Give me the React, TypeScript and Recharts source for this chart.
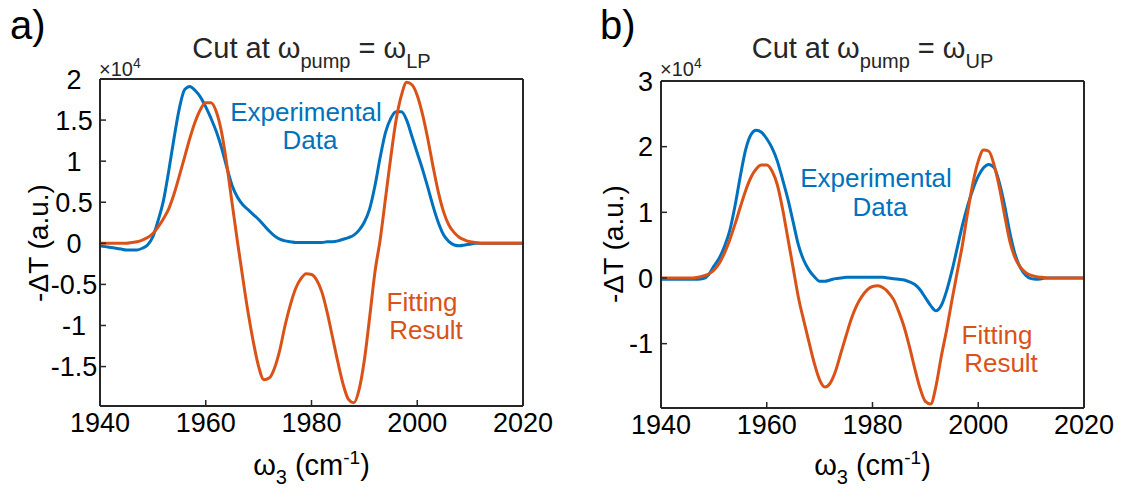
import React from 'react'
import { LineChart, Line, XAxis, YAxis } from 'recharts'

// wavenumber grid (cm-1), one sample per cm-1
const wavenumbers = Array.from({ length: 81 }, (_, i) => 1940 + i)

// panel a: cut at w_pump = w_LP  (units of 1e4)
const expA = [
  -0.03, -0.04, -0.05, -0.06, -0.07, -0.08, -0.08, -0.08, -0.06, -0.02,
  0.08, 0.28, 0.52, 0.88, 1.28, 1.64, 1.87, 1.91, 1.86, 1.78,
  1.66, 1.52, 1.36, 1.16, 0.92, 0.7, 0.56, 0.47, 0.41, 0.35,
  0.29, 0.22, 0.15, 0.09, 0.05, 0.03, 0.02, 0.01, 0.01, 0.01,
  0.01, 0.01, 0.01, 0.02, 0.02, 0.03, 0.05, 0.07, 0.1, 0.16,
  0.26, 0.42, 0.7, 1.05, 1.35, 1.52, 1.6, 1.6, 1.5, 1.3,
  1.1, 0.9, 0.68, 0.45, 0.25, 0.1, 0.02, -0.02, -0.03, -0.02,
  -0.01, 0, 0, 0, 0, 0, 0, 0, 0, 0, 0,
]
const fitA = [
  0, 0, 0, 0, 0, 0, 0.01, 0.02, 0.04, 0.07,
  0.12, 0.2, 0.3, 0.42, 0.6, 0.82, 1.05, 1.28, 1.48, 1.63,
  1.71, 1.71, 1.6, 1.35, 0.95, 0.48, 0.02, -0.42, -0.84, -1.2,
  -1.5, -1.66, -1.64, -1.52, -1.3, -1.0, -0.75, -0.55, -0.43, -0.37,
  -0.38, -0.45, -0.6, -0.85, -1.15, -1.45, -1.72, -1.9, -1.94, -1.78,
  -1.42, -0.9, -0.35, 0.05, 0.55, 1.05, 1.5, 1.8, 1.96, 1.93,
  1.8, 1.57, 1.27, 0.93, 0.62, 0.38, 0.22, 0.13, 0.07, 0.04,
  0.02, 0.01, 0, 0, 0, 0, 0, 0, 0, 0, 0,
]

// panel b: cut at w_pump = w_UP  (units of 1e4)
const expB = [
  -0.02, -0.02, -0.02, -0.02, -0.02, -0.02, -0.02, -0.02, -0.01, 0.05,
  0.18, 0.3, 0.48, 0.72, 1.1, 1.55, 1.95, 2.18, 2.25, 2.22,
  2.12, 1.98, 1.78, 1.5, 1.2, 0.85, 0.5, 0.27, 0.12, 0.02,
  -0.05, -0.05, -0.03, -0.01, 0, 0.01, 0.01, 0.01, 0.01, 0.01,
  0.01, 0.01, 0.01, 0, -0.01, -0.02, -0.03, -0.06, -0.1, -0.18,
  -0.3, -0.42, -0.5, -0.42, -0.2, 0.1, 0.45, 0.8, 1.1, 1.35,
  1.55, 1.68, 1.73, 1.68, 1.45, 1.1, 0.68, 0.35, 0.15, 0.04,
  -0.01, -0.02, -0.01, 0, 0, 0, 0, 0, 0, 0, 0,
]
const fitB = [
  0, 0, 0, 0, 0, 0, 0, 0.01, 0.03, 0.06,
  0.12, 0.22, 0.38, 0.58, 0.82, 1.08, 1.33, 1.53, 1.66, 1.72,
  1.72, 1.63, 1.42, 1.05, 0.6, 0.15, -0.3, -0.65, -0.98, -1.3,
  -1.55, -1.66, -1.6, -1.42, -1.15, -0.88, -0.62, -0.42, -0.28, -0.18,
  -0.13, -0.12, -0.15, -0.22, -0.33, -0.52, -0.75, -1.05, -1.38, -1.68,
  -1.88, -1.92, -1.65, -1.2, -0.8, -0.35, 0.08, 0.5, 1.0, 1.45,
  1.78, 1.95, 1.93, 1.72, 1.38, 0.95, 0.55, 0.3, 0.16, 0.08,
  0.04, 0.02, 0.01, 0, 0, 0, 0, 0, 0, 0, 0,
]

const xTicks = [1940, 1960, 1980, 2000, 2020]
const yTicksA = [-1.5, -1, -0.5, 0, 0.5, 1, 1.5, 2]
const yTicksB = [-1, 0, 1, 2, 3]

const BLUE = '#0072BD'
const ORANGE = '#D95319'
const AXIS = '#262626'
const FONT = '"Liberation Sans", Arial, Helvetica, sans-serif'

const toRows = (exp: number[], fit: number[]) =>
  wavenumbers.map((w, i) => ({ w, exp: exp[i], fit: fit[i] }))

interface PanelProps {
  rows: Array<Record<string, number>>
  yDomain: [number, number]
  yTicks: number[]
  left: number
  width: number
  margin: { top: number; right: number; bottom: number; left: number }
  centeredY?: boolean
}

// axes get 1px of room each (recharts skips zero-sized axes)
const Panel: React.FC<PanelProps> = ({ rows, yDomain, yTicks, left, width, margin, centeredY }) => {
  const axisLine = { stroke: AXIS, strokeWidth: 2 }
  const tickLine = { stroke: AXIS, strokeWidth: 1.5 }
  const tickText = { fill: '#000', fontSize: 27, fontFamily: FONT }
  return (
    <div style={{ position: 'absolute', left, top: 0 }}>
      <LineChart width={width} height={488} data={rows} margin={margin}>
        <XAxis
          xAxisId="b"
          dataKey="w"
          type="number"
          domain={[1940, 2020]}
          ticks={xTicks}
          interval={0}
          allowDataOverflow
          height={1}
          tickSize={-6}
          tickMargin={13}
          axisLine={axisLine}
          tickLine={tickLine}
          tick={tickText}
        />
        <XAxis
          xAxisId="t"
          orientation="top"
          dataKey="w"
          type="number"
          domain={[1940, 2020]}
          ticks={xTicks}
          interval={0}
          allowDataOverflow
          height={1}
          tickSize={-6}
          axisLine={axisLine}
          tickLine={tickLine}
          tick={false}
        />
        <YAxis
          yAxisId="l"
          type="number"
          domain={yDomain}
          ticks={yTicks}
          interval={0}
          allowDataOverflow
          width={1}
          tickSize={-6}
          tickMargin={centeredY ? 32 : 14}
          axisLine={axisLine}
          tickLine={tickLine}
          tick={
            centeredY
              ? (p: any) => (
                  <text x={p.x} y={p.y} dy="0.355em" textAnchor="middle" fill="#000" fontSize={27} fontFamily={FONT}>
                    {p.payload.value}
                  </text>
                )
              : tickText
          }
        />
        <YAxis
          yAxisId="r"
          orientation="right"
          type="number"
          domain={yDomain}
          ticks={yTicks}
          interval={0}
          allowDataOverflow
          width={1}
          tickSize={-6}
          axisLine={axisLine}
          tickLine={tickLine}
          tick={false}
        />
        <Line xAxisId="b" yAxisId="l" dataKey="exp" type="monotone" stroke={BLUE} strokeWidth={3} dot={false} isAnimationActive={false} />
        <Line xAxisId="b" yAxisId="l" dataKey="fit" type="monotone" stroke={ORANGE} strokeWidth={3} dot={false} isAnimationActive={false} />
      </LineChart>
    </div>
  )
}

const Title: React.FC<{ cx: number; state: string }> = ({ cx, state }) => (
  <text x={cx} y={58} textAnchor="middle" fontSize={29} fill="#262626">
    Cut at ω<tspan fontSize={20} dy={10}>pump</tspan>
    <tspan dy={-10}> = ω</tspan>
    <tspan fontSize={20} dy={10}>{state}</tspan>
  </text>
)

const Scale: React.FC<{ x: number }> = ({ x }) => (
  <text x={x} y={76} fontSize={20} fill="#262626">
    ×10<tspan fontSize={14} dy={-8}>4</tspan>
  </text>
)

const XLabel: React.FC<{ cx: number }> = ({ cx }) => (
  <text x={cx} y={475} textAnchor="middle" fontSize={29} fill="#000">
    ω<tspan fontSize={20} dy={9}>3</tspan>
    <tspan dy={-9}> (cm</tspan>
    <tspan fontSize={19} dy={-11}>-1</tspan>
    <tspan dy={11}>)</tspan>
  </text>
)

const YLabel: React.FC<{ x: number; cy: number }> = ({ x, cy }) => (
  <text x={x} y={cy} textAnchor="middle" fontSize={28} fill="#000" transform={`rotate(-90, ${x}, ${cy})`}>
    -ΔT (a.u.)
  </text>
)

export default function App() {
  return (
    <div style={{ position: 'absolute', left: 0, top: 0, width: 1121, height: 488, background: '#fff', fontFamily: FONT }}>
      <Panel
        rows={toRows(expA, fitA)}
        yDomain={[-1.98, 2]}
        yTicks={yTicksA}
        left={0}
        width={560}
        margin={{ top: 78, right: 36, bottom: 81, left: 99 }}
        centeredY
      />
      <Panel
        rows={toRows(expB, fitB)}
        yDomain={[-1.98, 3]}
        yTicks={yTicksB}
        left={560}
        width={561}
        margin={{ top: 80, right: 36, bottom: 79, left: 100 }}
      />
      <svg width={1121} height={488} style={{ position: 'absolute', left: 0, top: 0, pointerEvents: 'none' }} fontFamily={FONT}>
        <text x={10} y={39} fontSize={40} fill="#000">a)</text>
        <text x={600} y={39} fontSize={40} fill="#000">b)</text>

        <Title cx={311.5} state="LP" />
        <Title cx={872.5} state="UP" />
        <Scale x={99} />
        <Scale x={660} />
        <XLabel cx={311.5} />
        <XLabel cx={872.5} />
        <YLabel x={48} cy={243} />
        <YLabel x={623} cy={244} />

        <text x={306} y={121} textAnchor="middle" fontSize={26} fill={BLUE}>Experimental</text>
        <text x={310} y={149} textAnchor="middle" fontSize={26} fill={BLUE}>Data</text>
        <text x={876} y={187} textAnchor="middle" fontSize={26} fill={BLUE}>Experimental</text>
        <text x={880} y={216} textAnchor="middle" fontSize={26} fill={BLUE}>Data</text>

        <text x={422} y={311} textAnchor="middle" fontSize={26} fill={ORANGE}>Fitting</text>
        <text x={426} y={339} textAnchor="middle" fontSize={26} fill={ORANGE}>Result</text>
        <text x={997} y={344} textAnchor="middle" fontSize={26} fill={ORANGE}>Fitting</text>
        <text x={1001} y={372} textAnchor="middle" fontSize={26} fill={ORANGE}>Result</text>
      </svg>
    </div>
  )
}
